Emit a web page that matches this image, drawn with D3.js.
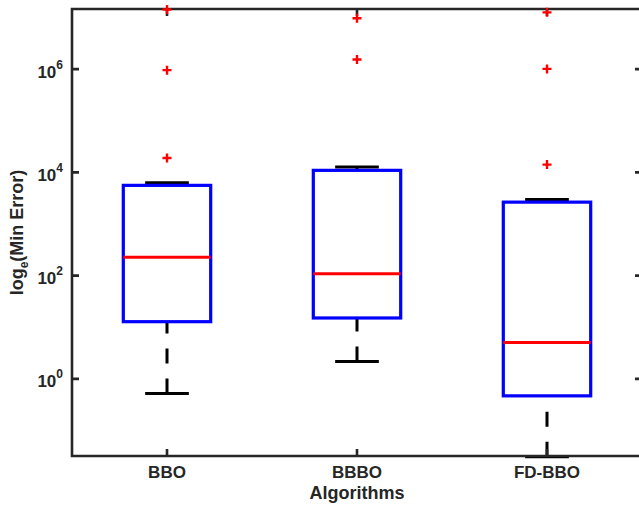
<!DOCTYPE html>
<html>
<head>
<meta charset="utf-8">
<script src="https://cdn.jsdelivr.net/npm/d3@7"></script>
<style>
  body { margin: 0; background: #fff; }
  text { font-family: "Liberation Sans", Arial, sans-serif; font-weight: bold; fill: #262626; }
</style>
</head>
<body>
<div id="chart"></div>
<script>
const algorithms = ["BBO", "BBBO", "FD-BBO"]
const whiskerLow = [0.519, 2.17, 0.031]
const q1 = [12.8, 15.1, 0.468]
const median = [226, 108, 5.07]
const q3 = [5600, 10940, 2650]
const whiskerHigh = [6310, 12680, 2990]
const outliers = [
  [18970, 9.55e5, 1.43e7],
  [1.54e6, 9.66e6],
  [14130, 1.01e6, 1.26e7]
]
const yTickExps = [0, 2, 4, 6]

const width = 639, height = 505
const margin = {top: 9, right: -3, bottom: 49, left: 72}
const axisColor = "#262626"

const svg = d3.select("#chart").append("svg")
  .attr("width", width)
  .attr("height", height)

const x = d3.scalePoint()
  .domain(algorithms)
  .range([margin.left, width - margin.right])
  .padding(0.5)

const y = d3.scaleLog()
  .domain([Math.pow(10, -1.495), Math.pow(10, 7.165)])
  .range([height - margin.bottom, margin.top])

const boxW = x.step() * 0.46
const capW = boxW / 2

const boxes = algorithms.map((name, i) => ({
  name, lo: whiskerLow[i], q1: q1[i], med: median[i], q3: q3[i], hi: whiskerHigh[i], out: outliers[i]
}))

const g = svg.append("g")

// whiskers (dashed), drawn from the whisker end towards the box
g.selectAll(".whisk-up").data(boxes).join("line")
  .attr("x1", d => x(d.name)).attr("x2", d => x(d.name))
  .attr("y1", d => y(d.hi)).attr("y2", d => y(d.q3))
  .attr("stroke", "#000").attr("stroke-width", 3).attr("stroke-dasharray", "15,15")
g.selectAll(".whisk-lo").data(boxes).join("line")
  .attr("x1", d => x(d.name)).attr("x2", d => x(d.name))
  .attr("y1", d => y(d.lo)).attr("y2", d => y(d.q1))
  .attr("stroke", "#000").attr("stroke-width", 3).attr("stroke-dasharray", "15,15")

// caps
for (const key of ["hi", "lo"]) {
  g.append("g").selectAll("line").data(boxes).join("line")
    .attr("x1", d => x(d.name) - capW / 2).attr("x2", d => x(d.name) + capW / 2)
    .attr("y1", d => y(d[key])).attr("y2", d => y(d[key]))
    .attr("stroke", "#000").attr("stroke-width", 3)
}

// boxes
g.append("g").selectAll("rect").data(boxes).join("rect")
  .attr("x", d => x(d.name) - boxW / 2)
  .attr("width", boxW)
  .attr("y", d => y(d.q3))
  .attr("height", d => y(d.q1) - y(d.q3))
  .attr("fill", "none")
  .attr("stroke", "#0000ff")
  .attr("stroke-width", 3.2)

// medians
g.append("g").selectAll("line").data(boxes).join("line")
  .attr("x1", d => x(d.name) - boxW / 2).attr("x2", d => x(d.name) + boxW / 2)
  .attr("y1", d => y(d.med)).attr("y2", d => y(d.med))
  .attr("stroke", "#ff0000").attr("stroke-width", 3)

// axes frame
const x0 = margin.left, x1 = width - margin.right
const y0 = margin.top, y1 = height - margin.bottom
const frame = svg.append("g")
  .attr("stroke", axisColor).attr("stroke-width", 2.6).attr("fill", "none")
frame.append("path").attr("d", `M${x0},${y0}H${x1}V${y1}H${x0}Z`)

// ticks
const tickLen = 7
frame.selectAll(".xt").data(algorithms).join("path")
  .attr("d", d => `M${x(d)},${y1}v${-tickLen}M${x(d)},${y0}v${tickLen}`)
frame.selectAll(".yt").data(yTickExps).join("path")
  .attr("d", d => `M${x0},${y(Math.pow(10, d))}h${tickLen}M${x1},${y(Math.pow(10, d))}h${-tickLen}`)

// outliers
const outPts = boxes.flatMap(d => d.out.map(v => ({name: d.name, v})))
svg.append("g").selectAll("path").data(outPts).join("path")
  .attr("d", d => {
    const cx = x(d.name), cy = y(d.v), s = 4.5
    return `M${cx - s},${cy}H${cx + s}M${cx},${cy - s}V${cy + s}`
  })
  .attr("stroke", "#ff0000").attr("stroke-width", 2.4)

// y tick labels
const yl = svg.append("g").selectAll("text").data(yTickExps).join("text")
  .attr("x", x0 - 9)
  .attr("y", d => y(Math.pow(10, d)) + 8.5)
  .attr("text-anchor", "end")
  .style("font-size", "17px")
yl.append("tspan").text("10")
yl.append("tspan").attr("dy", -9).style("font-size", "12px").text(d => d)

// x tick labels
svg.append("g").selectAll("text").data(algorithms).join("text")
  .attr("x", d => x(d))
  .attr("y", y1 + 22)
  .attr("text-anchor", "middle")
  .style("font-size", "17px")
  .text(d => d)

// axis titles
svg.append("text")
  .attr("x", (x0 + x1) / 2)
  .attr("y", y1 + 43)
  .attr("text-anchor", "middle")
  .style("font-size", "18px")
  .text("Algorithms")

const yt = svg.append("text")
  .attr("transform", `translate(23,${(y0 + y1) / 2}) rotate(-90)`)
  .attr("text-anchor", "middle")
  .style("font-size", "18px")
yt.append("tspan").text("log")
yt.append("tspan").attr("dy", 5).style("font-size", "12px").text("e")
yt.append("tspan").attr("dy", -5).text("(Min Error)")
</script>
</body>
</html>
